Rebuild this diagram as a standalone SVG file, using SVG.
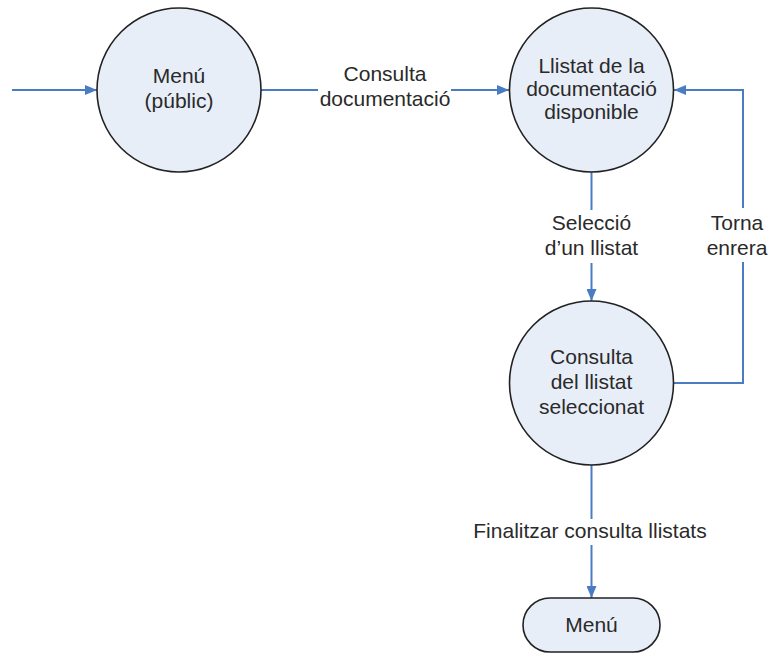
<svg xmlns="http://www.w3.org/2000/svg" width="768" height="655" viewBox="0 0 768 655">
  <style>
    .node { fill: #E8EEF8; stroke: #222; stroke-width: 1.6; }
    .edge { fill: none; stroke: #4A7CC4; stroke-width: 2; }
    text { font-family: "Liberation Sans", Arial, sans-serif; font-size: 21px; fill: #2a2a2a; text-anchor: middle; }
  </style>
  <defs>
    <marker id="arrow" viewBox="0 0 12 10" refX="12" refY="5" markerWidth="12" markerHeight="10" markerUnits="userSpaceOnUse" orient="auto">
      <path d="M0,0 L12,5 L0,10 Z" fill="#4A7CC4"/>
    </marker>
  </defs>
  <rect width="768" height="655" fill="#fff"/>

  <g id="connectors">
    <path class="edge" d="M12,90 H97" marker-end="url(#arrow)"/>
    <path class="edge" d="M261,90 H318"/>
    <path class="edge" d="M451,90 H509" marker-end="url(#arrow)"/>
    <path class="edge" d="M591.5,172 V210"/>
    <path class="edge" d="M591.5,263 V301" marker-end="url(#arrow)"/>
    <path class="edge" d="M591.5,465 V519"/>
    <path class="edge" d="M591.5,545 V598" marker-end="url(#arrow)"/>
    <path class="edge" d="M674,383 H743 V262"/>
    <path class="edge" d="M743,208 V90 H674" marker-end="url(#arrow)"/>
    <text x="385" y="81">Consulta</text>
    <text x="385" y="106">documentació</text>
    <text x="591.5" y="230">Selecció</text>
    <text x="591.5" y="255">d’un llistat</text>
    <text x="737" y="230">Torna</text>
    <text x="737" y="255">enrera</text>
    <text x="590" y="538">Finalitzar consulta llistats</text>
  </g>

  <g id="menu-public">
    <circle class="node" cx="179" cy="90" r="82"/>
    <text x="179" y="83">Menú</text>
    <text x="179" y="108">(públic)</text>
  </g>

  <g id="llistat-documentacio">
    <circle class="node" cx="591.5" cy="90" r="82"/>
    <text x="591.5" y="73">Llistat de la</text>
    <text x="591.5" y="96">documentació</text>
    <text x="591.5" y="119">disponible</text>
  </g>

  <g id="consulta-llistat">
    <circle class="node" cx="591.5" cy="383" r="82"/>
    <text x="591.5" y="364">Consulta</text>
    <text x="591.5" y="389">del llistat</text>
    <text x="591.5" y="414">seleccionat</text>
  </g>

  <g id="menu">
    <rect class="node" x="523" y="598" width="137" height="54" rx="27"/>
    <text x="591.5" y="632">Menú</text>
  </g>
</svg>
